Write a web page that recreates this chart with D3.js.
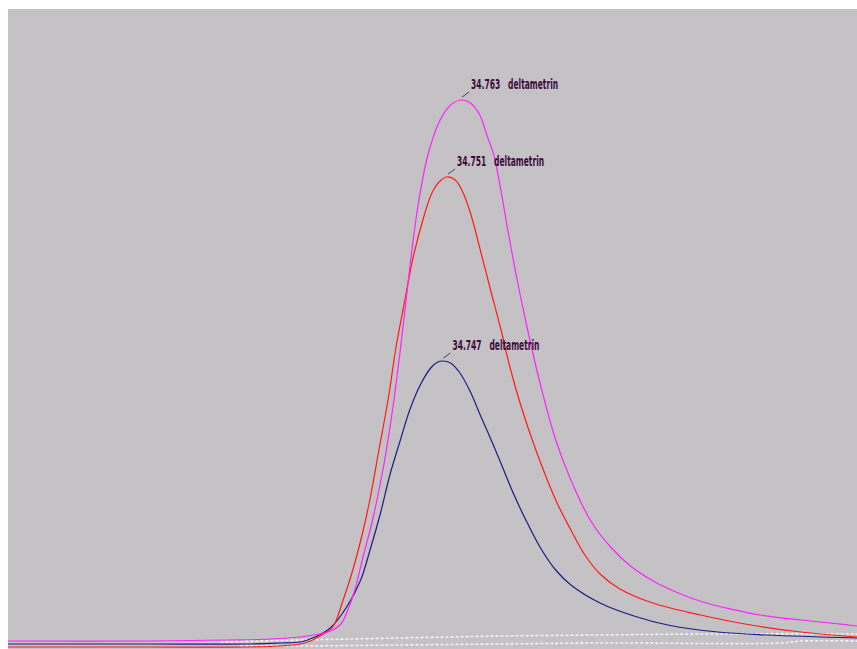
<!DOCTYPE html>
<html><head><meta charset="utf-8">
<script src="https://cdn.jsdelivr.net/npm/d3@7"></script>
<style>html,body{margin:0;padding:0;background:#fff;}svg{display:block;}</style>
</head><body>
<script>
// Retention time (min) and abundance (arbitrary units) for each trace
const magentaTime  = [34.375,34.497,34.565,34.600,34.625,34.642,34.651,34.660,34.666,34.672,34.679,34.687,34.692,34.698,34.705,34.711,34.716,34.721,34.727,34.735,34.745,34.755,34.763,34.771,34.779,34.785,34.791,34.797,34.803,34.811,34.820,34.831,34.844,34.857,34.874,34.891,34.908,34.929,34.951,34.970,34.994,35.019,35.054,35.079,35.102];
const magentaValue = [8,8,9,10,12,15,18,25,39,59,92,128,155,192,245,300,350,400,450,496,529,545,549,546,534,514,494,459,419,369,319,264,209,169,128,102,83,67,55,47,40,34,29,26,23];

const redTime  = [34.375,34.497,34.582,34.608,34.625,34.634,34.642,34.653,34.662,34.671,34.679,34.685,34.692,34.701,34.707,34.715,34.722,34.731,34.738,34.745,34.751,34.758,34.764,34.771,34.779,34.788,34.797,34.805,34.814,34.827,34.844,34.857,34.869,34.882,34.899,34.927,34.968,35.011,35.054,35.102];
const redValue = [2,2,2,3,5,8,13,22,49,82,118,150,195,253,300,350,392,432,456,468,472,469,458,436,401,360,320,281,244,199,149,119,94,75,60,46,34,24,17,12];

const blueTime  = [34.375,34.497,34.582,34.608,34.625,34.638,34.651,34.665,34.677,34.685,34.694,34.702,34.711,34.719,34.728,34.737,34.743,34.747,34.754,34.762,34.771,34.779,34.788,34.797,34.808,34.818,34.831,34.844,34.857,34.882,34.911,34.940,34.983,35.025,35.102];
const blueValue = [5,5,5,6,7,12,21,42,69,99,136,174,209,239,264,281,287,288,286,276,257,235,211,186,155,130,101,79,64,46,33,24,17,14,11];

const noise1Time  = [34.557,34.625,34.711,34.797,34.882,34.968,35.102];
const noise1Value = [7,9,11,13,14,15,15];
const noise2Time  = [34.574,34.625,34.711,34.797,34.882,35.037,35.054,35.102];
const noise2Value = [3,3,4,5,6,6,8,8];

const peakLabels = ["34.763", "34.751", "34.747"];
const peakNames  = ["deltametrin", "deltametrin", "deltametrin"];

const W = 857, H = 649;
const svg = d3.select("body").append("svg").attr("width", W).attr("height", H);
const plot = {left: 8, top: 9, right: 857, bottom: 649};

svg.append("rect").attr("x", plot.left).attr("y", plot.top)
  .attr("width", plot.right - plot.left).attr("height", plot.bottom - plot.top)
  .attr("fill", "#c4c2c4");

const x = d3.scaleLinear().domain([34.375, 35.102]).range([plot.left, plot.right]);
const y = d3.scaleLinear().domain([0, 640]).range([plot.bottom, plot.top]);

const line = d3.line().x(d => x(d[0])).y(d => y(d[1])).curve(d3.curveCatmullRom.alpha(0.5));
const zip = (a, b) => a.map((t, i) => [t, b[i]]);

const g = svg.append("g");
// white dashed noise traces
[[noise1Time, noise1Value], [noise2Time, noise2Value]].forEach(([t, v]) => {
  g.append("path").attr("d", line(zip(t, v))).attr("fill", "none")
    .attr("stroke", "#f4f4f4").attr("stroke-width", 1.6).attr("stroke-dasharray", "3,2");
});

const series = [
  {t: blueTime, v: blueValue, color: "#1c1c86", label: 2},
  {t: redTime, v: redValue, color: "#ff1a1a", label: 1},
  {t: magentaTime, v: magentaValue, color: "#ff22ff", label: 0}
];
series.forEach(s => {
  g.append("path").attr("d", line(zip(s.t, s.v))).attr("fill", "none")
    .attr("stroke", s.color).attr("stroke-width", 1.2);
});

const textColor = "#3c0c3c";
series.forEach(s => {
  const i = d3.maxIndex(s.v);
  const px = x(s.t[i]), py = y(s.v[i]);
  svg.append("line").attr("x1", px + 1).attr("y1", py - 3).attr("x2", px + 8).attr("y2", py - 8)
    .attr("stroke", "#5a3a5a").attr("stroke-width", 1);
  svg.append("text").attr("fill", textColor)
    .attr("font-family", "'Liberation Sans Narrow','Arial Narrow','DejaVu Sans Condensed',sans-serif")
    .attr("font-weight", "bold").attr("font-size", 14)
    .style("white-space", "pre")
    .attr("x", px + 10).attr("y", py - 11)
    .attr("textLength", 87).attr("lengthAdjust", "spacingAndGlyphs")
    .text(peakLabels[s.label] + "   " + peakNames[s.label]);
});
</script>
</body></html>
